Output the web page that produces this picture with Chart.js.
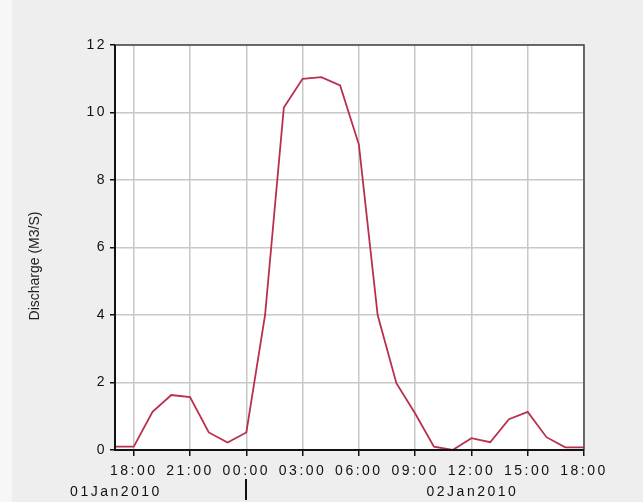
<!DOCTYPE html>
<html>
<head>
<meta charset="utf-8">
<script src="https://cdn.jsdelivr.net/npm/chart.js@4.4.1/dist/chart.umd.min.js"></script>
<style>
  html, body { margin: 0; padding: 0; background: #eeeeee; }
  #wrap { position: relative; width: 643px; height: 502px; }
</style>
</head>
<body>
<div id="wrap"><canvas id="chart" width="643" height="502"></canvas></div>
<script>
/* hourly readings, 01Jan2010 17:00 -> 02Jan2010 18:00 */
const hours = ['17:00', '18:00', '19:00', '20:00', '21:00', '22:00', '23:00',
  '00:00', '01:00', '02:00', '03:00', '04:00', '05:00', '06:00', '07:00', '08:00',
  '09:00', '10:00', '11:00', '12:00', '13:00', '14:00', '15:00', '16:00', '17:00', '18:00'];
const discharge = [0.1, 0.1, 1.13, 1.63, 1.57, 0.52, 0.22, 0.52, 4.0, 10.15, 11.0, 11.05,
  10.8, 9.05, 4.0, 1.98, 1.08, 0.1, 0.0, 0.35, 0.23, 0.91, 1.13, 0.38, 0.08, 0.08];
const yTicks = [0, 2, 4, 6, 8, 10, 12];
const dateLabels = ['01Jan2010', '02Jan2010'];
const dateLabelIdx = [0, 19];
const dayBreakIdx = 7;
const yTitle = 'Discharge (M3/S)';

const FONT = '"Liberation Sans", Arial, sans-serif';
const SPACING = '2.5px';

const framePlugin = {
  id: 'frame',
  beforeLayout(chart) { chart.ctx.letterSpacing = SPACING; },
  beforeDraw(chart) {
    const { ctx, chartArea: a } = chart;
    ctx.save();
    ctx.fillStyle = '#f7f7f7';
    ctx.fillRect(0, 0, 12, chart.height);
    ctx.fillStyle = '#ffffff';
    ctx.fillRect(a.left, a.top, a.right - a.left, a.bottom - a.top);
    ctx.restore();
    ctx.letterSpacing = SPACING;
  },
  afterDraw(chart) {
    const { ctx, chartArea: a } = chart;
    const x = chart.scales.x;
    ctx.save();
    // frame top/right
    ctx.strokeStyle = '#444444';
    ctx.lineWidth = 1.5;
    ctx.beginPath();
    ctx.moveTo(a.left, a.top);
    ctx.lineTo(a.right, a.top);
    ctx.lineTo(a.right, a.bottom);
    ctx.stroke();
    // left/bottom axes
    ctx.strokeStyle = '#111111';
    ctx.lineWidth = 2;
    ctx.beginPath();
    ctx.moveTo(a.left, a.top);
    ctx.lineTo(a.left, a.bottom);
    ctx.lineTo(a.right, a.bottom);
    ctx.stroke();

    // second row of date labels
    ctx.letterSpacing = SPACING;
    ctx.fillStyle = '#111111';
    ctx.font = '14px ' + FONT;
    ctx.textAlign = 'center';
    ctx.textBaseline = 'middle';
    dateLabels.forEach((t, i) => {
      ctx.fillText(t, x.getPixelForValue(dateLabelIdx[i]) + 1, 492);
    });
    // day separator
    const dx = Math.round(x.getPixelForValue(dayBreakIdx));
    ctx.lineWidth = 2;
    ctx.beginPath();
    ctx.moveTo(dx, 479);
    ctx.lineTo(dx, 500);
    ctx.stroke();

    // y title
    ctx.letterSpacing = '0px';
    ctx.font = '14px ' + FONT;
    ctx.fillStyle = '#222222';
    ctx.translate(35, 266);
    ctx.rotate(-Math.PI / 2);
    ctx.fillText(yTitle, 0, 0);
    ctx.restore();
  }
};

new Chart(document.getElementById('chart'), {
  type: 'line',
  data: {
    labels: hours,
    datasets: [{
      data: discharge,
      borderColor: '#b8304e',
      borderWidth: 1.8,
      pointRadius: 0,
      tension: 0,
      fill: false
    }]
  },
  options: {
    responsive: false,
    animation: false,
    events: [],
    layout: { padding: { left: 0, top: 45, right: 59, bottom: 0 } },
    plugins: { legend: { display: false }, tooltip: { enabled: false } },
    scales: {
      x: {
        type: 'category',
        offset: false,
        border: { display: false },
        grid: {
          color: c => (c.index % 3 === 1 ? '#c8c8c8' : 'rgba(0,0,0,0)'),
          lineWidth: 1.5,
          tickColor: c => (c.index % 3 === 1 || c.index === 25 ? '#111111' : 'rgba(0,0,0,0)'),
          tickLength: 6,
          drawOnChartArea: true
        },
        ticks: {
          autoSkip: false,
          maxRotation: 0,
          padding: 7,
          color: '#111111',
          font: { family: FONT, size: 14 },
          callback: (v, i) => (i % 3 === 1 ? hours[i] : '')
        },
        afterFit: s => { s.height = 52; }
      },
      y: {
        min: 0,
        max: 12,
        border: { display: false },
        afterBuildTicks: s => { s.ticks = yTicks.map(v => ({ value: v })); },
        grid: { color: '#c8c8c8', lineWidth: 1.5, tickColor: '#111111', tickLength: 5 },
        ticks: {
          padding: 3,
          color: '#111111',
          font: { family: FONT, size: 14 }
        },
        afterFit: s => { s.width = 115; }
      }
    }
  },
  plugins: [framePlugin]
});
</script>
</body>
</html>
